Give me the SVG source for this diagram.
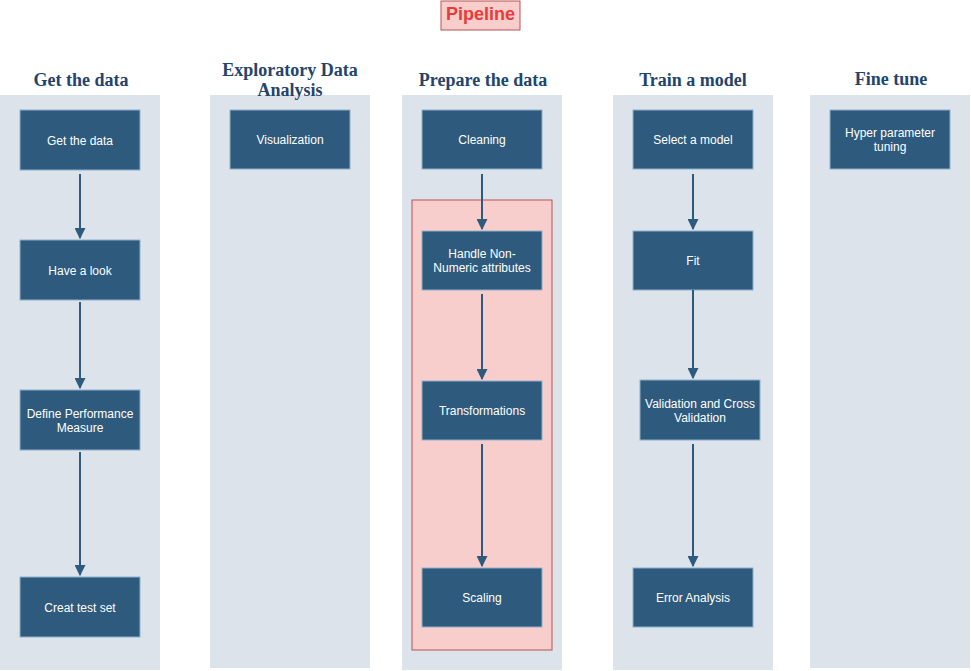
<svg xmlns="http://www.w3.org/2000/svg" width="971" height="671" viewBox="0 0 971 671">
<defs>
<marker id="ah" viewBox="0 0 10 10" refX="9" refY="5" markerWidth="5.5" markerHeight="5.5" orient="auto" markerUnits="strokeWidth">
<path d="M0,0 L10,5 L0,10 z" fill="#2d5a7d"/>
</marker>
<style>
.lane{fill:#dce3ea;stroke:none}
.title{font-family:"Liberation Serif",serif;font-weight:bold;font-size:18px;fill:#23446c;text-anchor:middle}
.node rect{fill:#2d5a7d;stroke:#8fb0cc;stroke-width:1}
.node text{font-family:"Liberation Sans",Arial,sans-serif;font-size:12px;fill:#ffffff;text-anchor:middle}
.edge{stroke:#2d5a7d;stroke-width:2;fill:none;marker-end:url(#ah)}
</style>
</defs>
<rect width="971" height="671" fill="#ffffff"/>
<g id="title">
<rect x="441" y="1" width="79" height="29" fill="#f8cecc" stroke="#b85450"/>
<text x="480.5" y="20" font-family="Liberation Sans,Arial,sans-serif" font-weight="bold" font-size="18" fill="#ea3b3b" text-anchor="middle">Pipeline</text>
</g>
<g id="lanes">
<rect class="lane" x="0" y="95" width="160" height="575"/>
<rect class="lane" x="210" y="95" width="160" height="573"/>
<rect class="lane" x="402" y="95" width="160" height="575"/>
<rect class="lane" x="613" y="95" width="160" height="575"/>
<rect class="lane" x="810" y="95" width="160" height="573"/>
<text class="title" x="81" y="86">Get the data</text>
<text class="title" x="290" y="76">Exploratory Data</text>
<text class="title" x="290" y="96">Analysis</text>
<text class="title" x="483" y="86">Prepare the data</text>
<text class="title" x="693" y="86">Train a model</text>
<text class="title" x="891" y="85">Fine tune</text>
</g>
<g id="prep-group">
<rect x="412" y="200" width="140" height="450" fill="#f8cecc" stroke="#b85450"/>
</g>
<g id="n1" class="node"><rect x="20" y="110" width="120" height="60"/><text x="80" y="145">Get the data</text></g>
<g id="n2" class="node"><rect x="20" y="240" width="120" height="60"/><text x="80" y="275">Have a look</text></g>
<g id="n3" class="node"><rect x="20" y="390" width="120" height="60"/><text x="80" y="418">Define Performance</text><text x="80" y="432">Measure</text></g>
<g id="n4" class="node"><rect x="20" y="577" width="120" height="60"/><text x="80" y="612">Creat test set</text></g>
<g id="n5" class="node"><rect x="230" y="110" width="120" height="59"/><text x="290" y="144">Visualization</text></g>
<g id="n6" class="node"><rect x="422" y="110" width="120" height="59"/><text x="482" y="144">Cleaning</text></g>
<g id="n7" class="node"><rect x="422" y="231" width="120" height="59"/><text x="482" y="258">Handle Non-</text><text x="482" y="272">Numeric attributes</text></g>
<g id="n8" class="node"><rect x="422" y="381" width="120" height="59"/><text x="482" y="415">Transformations</text></g>
<g id="n9" class="node"><rect x="422" y="568" width="120" height="59"/><text x="482" y="602">Scaling</text></g>
<g id="n10" class="node"><rect x="633" y="110" width="120" height="59"/><text x="693" y="144">Select a model</text></g>
<g id="n11" class="node"><rect x="633" y="231" width="120" height="59"/><text x="693" y="265">Fit</text></g>
<g id="n12" class="node"><rect x="640" y="380" width="120" height="60"/><text x="700" y="408">Validation and Cross</text><text x="700" y="422">Validation</text></g>
<g id="n13" class="node"><rect x="633" y="568" width="120" height="59"/><text x="693" y="602">Error Analysis</text></g>
<g id="n14" class="node"><rect x="830" y="110" width="120" height="59"/><text x="890" y="137">Hyper parameter</text><text x="890" y="151">tuning</text></g>
<g id="edges">
<line class="edge" x1="80" y1="174" x2="80" y2="238"/>
<line class="edge" x1="80" y1="302" x2="80" y2="388"/>
<line class="edge" x1="80" y1="452" x2="80" y2="575"/>
<line class="edge" x1="482" y1="174" x2="482" y2="229"/>
<line class="edge" x1="482" y1="294" x2="482" y2="379"/>
<line class="edge" x1="482" y1="444" x2="482" y2="566"/>
<line class="edge" x1="693" y1="174" x2="693" y2="229"/>
<line class="edge" x1="693" y1="290" x2="693" y2="378"/>
<line class="edge" x1="693" y1="444" x2="693" y2="566"/>
</g>
</svg>
